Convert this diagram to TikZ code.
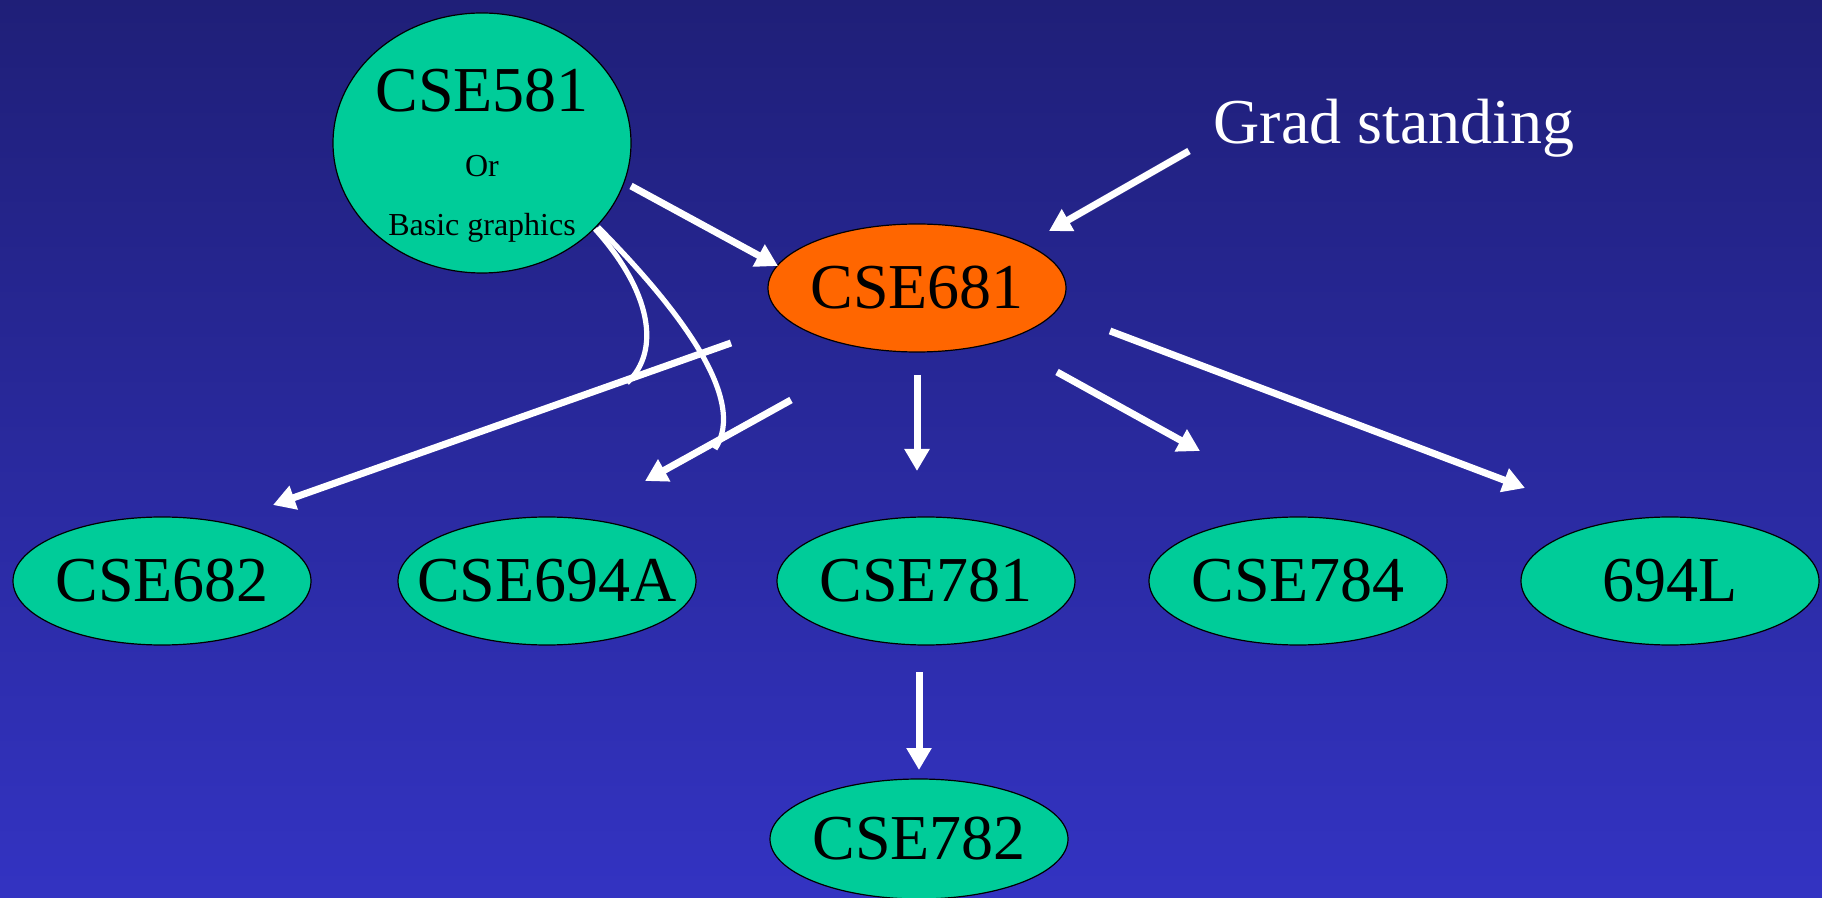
\documentclass[tikz,border=0pt]{standalone}
\usepackage{fontspec}
\setmainfont{Liberation Serif}
\usetikzlibrary{arrows.meta,shapes.geometric}
\definecolor{bgtop}{RGB}{31,31,120}
\definecolor{bgbot}{RGB}{51,51,194}
\definecolor{tealc}{RGB}{0,204,153}
\definecolor{orng}{RGB}{255,102,0}
\tikzset{
  course/.style={ellipse, draw=black, line width=0.6pt, fill=tealc, minimum width=149pt, minimum height=64pt, inner xsep=-25pt, inner ysep=0pt, font=\fontsize{32}{36}\selectfont},
  hot/.style={course, fill=orng},
  link/.style={draw=white, line width=3.5pt, -{Triangle[length=11pt,width=12pt]}},
  curvelink/.style={draw=white, line width=2.6pt},
}
\begin{document}
\begin{tikzpicture}[x=0.5pt,y=-0.5pt]
\shade[top color=bgtop, bottom color=bgbot] (0,0) rectangle (1822,898);
\useasboundingbox (0,0) rectangle (1822,898);

% nodes
\node[course, minimum width=149pt, minimum height=130pt] (c581) at (482,143) {};
\node[font=\fontsize{32}{36}\selectfont] (t581) at (482,91) {CSE581};
\node[font=\fontsize{16}{18}\selectfont] (tor) at (482,166) {Or};
\node[font=\fontsize{16}{18}\selectfont] (tbg) at (482,228) {Basic graphics};
\node[hot] (c681) at (917,288) {CSE681};
\node[text=white, font=\fontsize{32}{36}\selectfont] (grad) at (1394,128) {Grad standing};
\node[course] (c682) at (162,581) {CSE682};
\node[course] (c694a) at (547,581) {CSE694A};
\node[course] (c781) at (926,581) {CSE781};
\node[course] (c784) at (1298,581) {CSE784};
\node[course] (l694) at (1670,581) {694L};
\node[course, minimum height=60pt] (c782) at (919,839) {CSE782};

% arrow end points
\coordinate (a1s) at (631,186); \coordinate (a1e) at (778,266);
\coordinate (a2s) at (1189,151); \coordinate (a2e) at (1049,231);
\coordinate (a3s) at (731,343); \coordinate (a3e) at (273,505);
\coordinate (a4s) at (791,400); \coordinate (a4e) at (645,481);
\coordinate (a5s) at (917,375); \coordinate (a5e) at (917,471);
\coordinate (a6s) at (1057,372); \coordinate (a6e) at (1200,451);
\coordinate (a7s) at (1110,331); \coordinate (a7e) at (1525,488);
\coordinate (a8s) at (919,672); \coordinate (a8e) at (919,770);

\draw[link] (a1s) -- (a1e);
\draw[link] (a2s) -- (a2e);
\draw[link] (a3s) -- (a3e);
\draw[link] (a4s) -- (a4e);
\draw[link] (a5s) -- (a5e);
\draw[link] (a6s) -- (a6e);
\draw[link] (a7s) -- (a7e);
\draw[link] (a8s) -- (a8e);

% curved connectors
\coordinate (b1s) at (595,229); \coordinate (b1e) at (627,383);
\coordinate (b2s) at (598,227); \coordinate (b2e) at (715,449);
\draw[curvelink] (b1s) .. controls (650,290) and (662,350) .. (b1e);
\draw[curvelink] (b2s) .. controls (680,310) and (748,400) .. (b2e);
\end{tikzpicture}
\end{document}
